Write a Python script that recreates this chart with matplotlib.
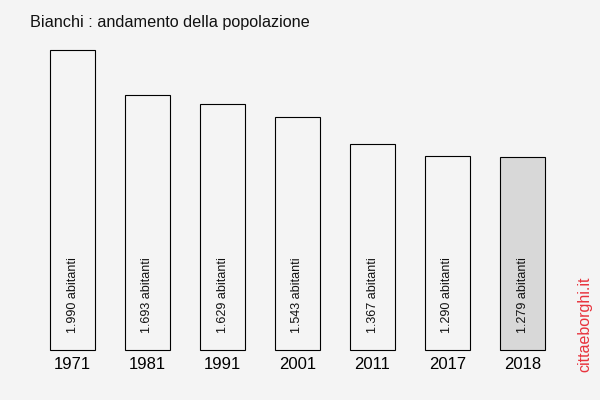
import matplotlib
matplotlib.use("Agg")
import matplotlib.pyplot as plt

years = ["1971", "1981", "1991", "2001", "2011", "2017", "2018"]
population = [1990, 1693, 1629, 1543, 1367, 1290, 1279]
labels = ["1.990 abitanti", "1.693 abitanti", "1.629 abitanti", "1.543 abitanti",
          "1.367 abitanti", "1.290 abitanti", "1.279 abitanti"]

plt.rcParams['font.family'] = ['Liberation Sans', 'DejaVu Sans']
bg = "#f4f4f4"
fig = plt.figure(figsize=(6, 4), dpi=100, facecolor=bg)
ax = fig.add_axes([35/600, 50/400, 525/600, 300/400])
ax.set_facecolor(bg)

x = list(range(len(years)))
colors = [bg] * (len(years) - 1) + ["#d8d8d8"]
bars = ax.bar(x, population, width=0.6, color=colors, edgecolor="black", linewidth=0.8)
for b in bars:
    b.set_clip_on(False)
for xi, lab in zip(x, labels):
    ax.text(xi, 17/300*1990, lab, rotation=90, ha="center", va="bottom", fontsize=9, color="#111111")

ax.set_xlim(-0.5, len(years) - 0.5)
ax.set_ylim(0, 1990)
ax.set_xticks(x)
ax.set_xticklabels(years, fontsize=12)
ax.tick_params(axis="x", length=0, pad=5)
ax.set_yticks([])
for s in ax.spines.values():
    s.set_visible(False)

fig.text(30/600, 1 - 22/400, "Bianchi : andamento della popolazione", fontsize=11.7, va="center", ha="left", color="#111111")
fig.text(585/600, 1 - 324/400, "cittaeborghi.it", rotation=90, fontsize=11.5, color="#e8323c", ha="center", va="center")

fig.savefig("out.png", dpi=100, facecolor=bg)
